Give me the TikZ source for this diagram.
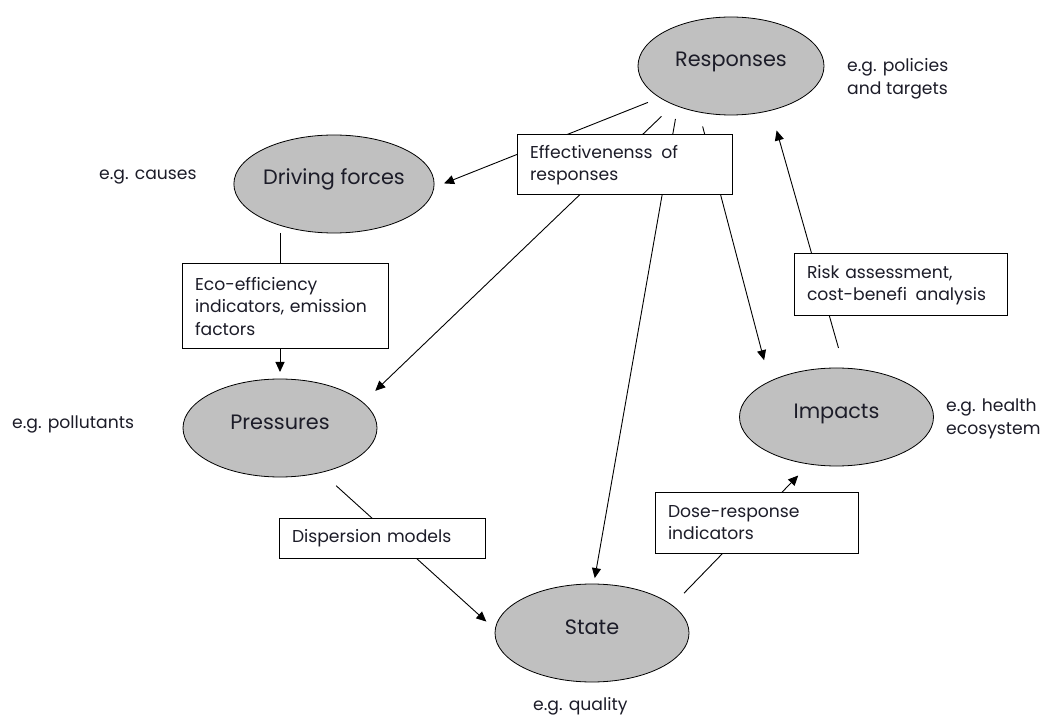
\documentclass[tikz,border=0pt]{standalone}
\usepackage{fontspec}
\setmainfont{Poppins}
\usetikzlibrary{shapes.geometric,arrows.meta}
\definecolor{stagegray}{RGB}{192,192,192}
\definecolor{ink}{RGB}{28,28,40}

\begin{document}
\begin{tikzpicture}[x=1pt,y=-1pt,
  stage/.style={ellipse,draw,fill=stagegray,line width=0.8pt,minimum width=194pt,minimum height=98pt,inner sep=0pt,outer sep=0pt,text=ink,font=\fontsize{20.8}{24}\selectfont,text height=14pt,text depth=12pt},
  infobox/.style={draw,fill=white,line width=1pt,align=left,inner xsep=13pt,inner ysep=0pt,outer sep=0pt,text=ink,font=\fontsize{17.2}{22.5}\selectfont},
  note/.style={anchor=west,align=left,inner sep=0pt,text=ink,font=\fontsize{17.2}{22.5}\selectfont},
  flow/.style={line width=0.9pt,-{Triangle[length=10pt,width=9pt]}}]
  \useasboundingbox (0,0) rectangle (1053,719);

  % Define the five stages
  \node[stage,minimum width=186pt] (resp) at (731,66) {Responses};
  \node[stage] (drive) at (334,184) {Driving forces};
  \node[stage] (press) at (280,428) {Pressures};
  \node[stage] (state) at (592,633) {State};
  \node[stage] (impact) at (836.5,417) {Impacts};

  % Draw the links leaving the responses
  \draw[flow,shorten <=13pt,shorten >=11pt] (resp.204) -- (drive.-2);
  \draw[flow,shorten <=17pt,shorten >=17pt] (resp.214) -- (press.17);
  \draw[flow,shorten <=13pt,shorten >=6pt] (resp.217) -- (state.88);
  \draw[flow,shorten <=15pt,shorten >=22pt] (resp.235) -- (impact.152);

  % Draw the chain round the cycle
  \draw[flow,shorten >=7pt] (drive.south -| press.north) -- (press.north);
  \draw[flow,shorten <=20pt,shorten >=12pt] (press.-47) -- (state.178);
  \draw[flow,shorten <=17pt,shorten >=16pt] (state.19) -- (impact.240);
  \draw[flow,shorten <=21pt,shorten >=21pt] (impact.81) -- (resp.-48);

  % Boxes with the indicators, on top of the links
  \node[infobox,text width=189pt,minimum height=60pt] (effect) at (624.5,165) {Effectivenenss\enspace of\\responses};
  \node[infobox,text width=180pt,minimum height=85pt] (eco) at (285,306.5) {Eco-efficiency\\indicators, emission\\factors};
  \node[infobox,text width=180pt,minimum height=40pt] (disp) at (382,538) {Dispersion models};
  \node[infobox,text width=177pt,minimum height=61pt] (dose) at (756.5,522.5) {Dose-response\\indicators};
  \node[infobox,text width=187pt,minimum height=62pt] (risk) at (900.5,285) {Risk assessment,\\cost-benefi\enspace analysis};

  % Examples next to the stages
  \node[note] (n-resp) at (847,79) {e.g. policies\\and targets};
  \node[note] (n-drive) at (99,177) {e.g. causes};
  \node[note] (n-press) at (12,424) {e.g. pollutants};
  \node[note] (n-impact) at (946,419) {e.g. health\\ecosystem};
  \node[note] (n-state) at (533,706) {e.g. quality};
\end{tikzpicture}
\end{document}
